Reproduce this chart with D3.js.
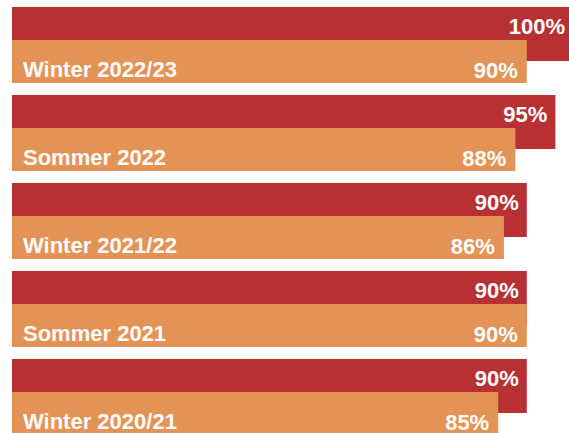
<!DOCTYPE html>
<html>
<head>
<meta charset="utf-8">
<script src="https://cdn.jsdelivr.net/npm/d3@7"></script>
<style>
  html, body { margin: 0; padding: 0; background: #fff; overflow: hidden; }
  svg { display: block; }
  text { font-family: "Liberation Sans", Arial, sans-serif; font-weight: bold; fill: #fff; }
</style>
</head>
<body>
<div id="chart"></div>
<script>
// Data, top to bottom
const periods = ["Winter 2022/23", "Sommer 2022", "Winter 2021/22", "Sommer 2021", "Winter 2020/21"];
const redValues = [100, 95, 90, 90, 90];
const orangeValues = [90, 88, 86, 90, 85];

const width = 569;
const height = 433;

const svg = d3.select("#chart").append("svg")
  .attr("width", width)
  .attr("height", height);

// x: 0..100% maps past the right edge, so the 100% bar is cut off
const x = d3.scaleLinear().domain([0, 100]).range([12, 584]);
const y = d3.scaleBand().domain(periods).range([7, 7 + 88 * periods.length]).paddingInner(0);

const redH = 54, orangeTop = 33, orangeH = 43;

const rows = periods.map((p, i) => ({ period: p, red: redValues[i], orange: orangeValues[i] }));

const g = svg.selectAll(".row")
  .data(rows)
  .join("g")
    .attr("class", "row")
    .attr("transform", d => `translate(0,${y(d.period)})`);

g.append("rect")
  .attr("x", x(0))
  .attr("y", 0)
  .attr("width", d => x(d.red) - x(0))
  .attr("height", redH)
  .attr("fill", "#b83034");

g.append("rect")
  .attr("x", x(0))
  .attr("y", orangeTop)
  .attr("width", d => x(d.orange) - x(0))
  .attr("height", orangeH)
  .attr("fill", "#e39356");

// value labels
g.append("text")
  .attr("x", d => Math.min(x(d.red) - 8, width - 4))
  .attr("y", 27)
  .attr("text-anchor", "end")
  .style("font-size", "22px")
  .text(d => d.red + "%");

g.append("text")
  .attr("x", d => Math.min(x(d.orange) - 9, width - 4))
  .attr("y", orangeTop + 38)
  .attr("text-anchor", "end")
  .style("font-size", "22px")
  .text(d => d.orange + "%");

// period labels
g.append("text")
  .attr("x", 23)
  .attr("y", orangeTop + 37)
  .style("font-size", "22px")
  .text(d => d.period);
</script>
</body>
</html>
